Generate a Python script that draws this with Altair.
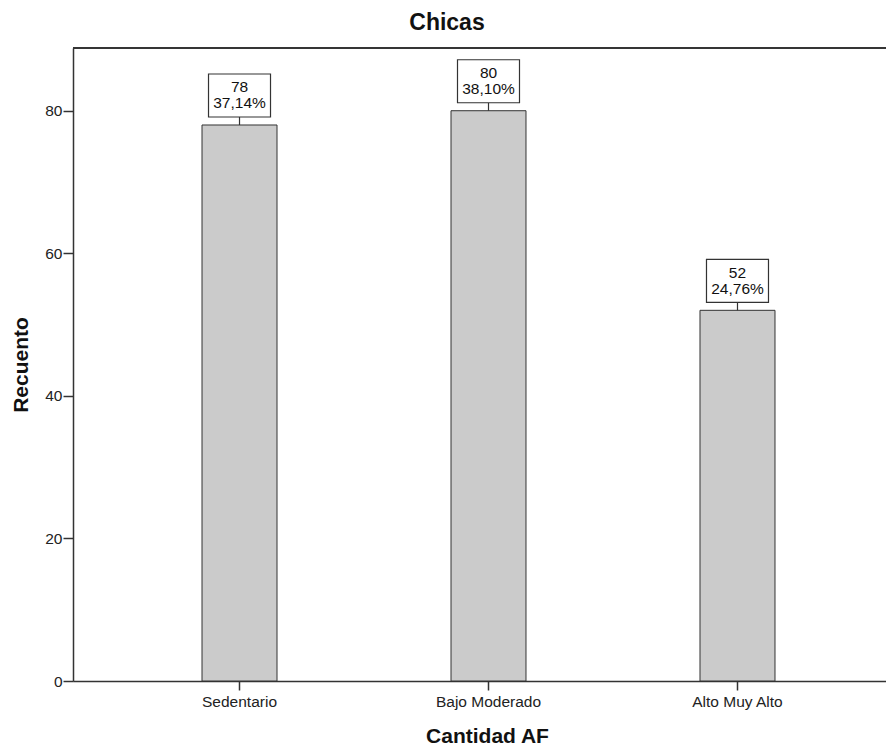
import altair as alt
import pandas as pd

categories = ["Sedentario", "Bajo Moderado", "Alto Muy Alto"]
counts = [78, 80, 52]
pct_labels = ["37,14%", "38,10%", "24,76%"]

df = pd.DataFrame({
    "cat": categories,
    "count": counts,
    "label": [f"{c}\n{p}" for c, p in zip(counts, pct_labels)],
})

W, H = 813, 633
FONT = "Liberation Sans"
DARK = "#333333"

xscale = alt.Scale(domain=categories, paddingInner=0.6988, paddingOuter=0.482, align=0.5375)
yscale = alt.Scale(domain=[0, 88.8], nice=False, zero=True)

xenc = alt.X("cat:N", scale=xscale, sort=categories,
             axis=alt.Axis(title="Cantidad AF", labelAngle=0, labelFont=FONT, labelFontSize=15.5,
                           labelColor="#222222", labelPadding=4, tickSize=9, tickColor=DARK,
                           domainColor=DARK, domainWidth=1.5, tickWidth=1.5,
                           titleFont=FONT, titleFontSize=21, titleFontWeight="bold",
                           titleColor="#111111", titleX=414, titleY=61,
                           titleBaseline="alphabetic"))
yenc = alt.Y("count:Q", scale=yscale,
             axis=alt.Axis(title="Recuento", values=[0, 20, 40, 60, 80], grid=False,
                           labelFont=FONT, labelFontSize=15.5, labelColor="#222222",
                           labelPadding=1, tickSize=10, tickColor=DARK, tickWidth=1.5,
                           domainColor=DARK, domainWidth=1.5,
                           titleFont=FONT, titleFontSize=21, titleFontWeight="bold",
                           titleColor="#111111", titleX=-46, titleBaseline="alphabetic"))

base = alt.Chart(df)

bars = base.mark_bar(fill="#cbcbcb", stroke=DARK, strokeWidth=1).encode(x=xenc, y=yenc)

leader = base.mark_rule(color=DARK, strokeWidth=1.2, y2Offset=-8).encode(
    x=alt.X("cat:N", scale=xscale, sort=categories),
    y=alt.Y("count:Q", scale=yscale),
    y2=alt.Y2("count:Q"),
)

boxes = base.mark_bar(fill="white", stroke=DARK, strokeWidth=1.2, width=62,
                      yOffset=-51, y2Offset=-8).encode(
    x=alt.X("cat:N", scale=xscale, sort=categories),
    y=alt.Y("count:Q", scale=yscale),
    y2=alt.Y2("count:Q"),
)

texts = base.mark_text(font=FONT, fontSize=15.5, lineBreak="\n", lineHeight=16,
                       baseline="alphabetic", align="center", dy=-32.5, color="#111111").encode(
    x=alt.X("cat:N", scale=xscale, sort=categories),
    y=alt.Y("count:Q", scale=yscale),
    text="label:N",
)

top_border = alt.Chart(df).mark_rule(color=DARK, strokeWidth=1.5).encode(
    x=alt.value(0), x2=alt.value(W), y=alt.value(0)
)

title_text = alt.Chart(pd.DataFrame({"t": ["Chicas"]})).mark_text(
    font=FONT, fontSize=23, fontWeight="bold", color="#111111",
    align="center", baseline="alphabetic"
).encode(x=alt.value(374), y=alt.value(-18), text="t:N")

chart = alt.layer(bars, leader, boxes, texts, top_border, title_text).properties(
    width=W, height=H,
    autosize=alt.AutoSizeParams(type="none"),
    padding={"left": 65, "top": 40, "right": 0, "bottom": 66},
).configure_view(fill="#f0f0f0", stroke=None).configure(background="white")

chart.save("out.html", embed_options={"renderer": "svg", "actions": False})
